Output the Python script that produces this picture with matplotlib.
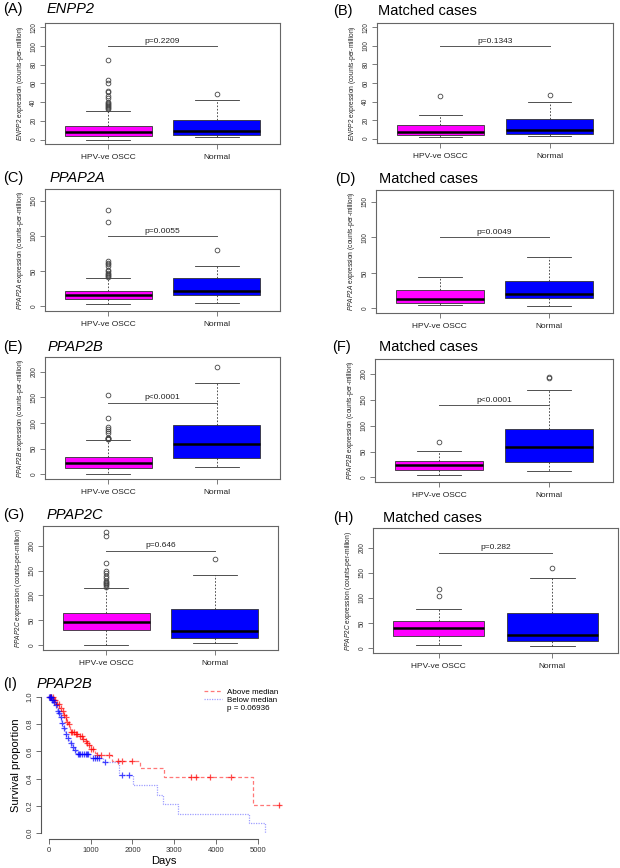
import numpy as np
import matplotlib
matplotlib.use("Agg")
import matplotlib.pyplot as plt
from matplotlib.lines import Line2D

plt.rcParams['font.family'] = ['Liberation Sans', 'DejaVu Sans']
plt.rcParams['mathtext.fontset'] = 'custom'
plt.rcParams['mathtext.it'] = 'Liberation Sans:italic'
plt.rcParams['mathtext.rm'] = 'Liberation Sans'

# ---------------- data ----------------
groups = ["HPV-ve OSCC", "Normal"]
panel_letters = ["(A)", "(B)", "(C)", "(D)", "(E)", "(F)", "(G)", "(H)"]
panel_titles = ["ENPP2", "Matched cases", "PPAP2A", "Matched cases",
                "PPAP2B", "Matched cases", "PPAP2C", "Matched cases"]
genes = ["ENPP2", "ENPP2", "PPAP2A", "PPAP2A", "PPAP2B", "PPAP2B", "PPAP2C", "PPAP2C"]
p_texts = ["p=0.2209", "p=0.1343", "p=0.0055", "p=0.0049",
           "p<0.0001", "p<0.0001", "p=0.646", "p=0.282"]
p_line_y = [100, 100, 100, 100, 140, 140, 190, 190]
y_max = [120, 120, 160, 160, 220, 220, 230, 230]
y_ticks = [[0, 20, 40, 60, 80, 100, 120], [0, 20, 40, 60, 80, 100, 120],
           [0, 50, 100, 150], [0, 50, 100, 150],
           [0, 50, 100, 150, 200], [0, 50, 100, 150, 200],
           [0, 50, 100, 150, 200], [0, 50, 100, 150, 200]]

# HPV-ve OSCC box statistics (panels A..H)
hpv_wlo = [0.0, 1.8, 3.8, 4.3, 0.7, 3.9, 1.3, 7.3]
hpv_q1 = [3.9, 4.3, 11.0, 7.7, 11.7, 15.0, 30.7, 24.5]
hpv_med = [8.4, 7.1, 16.3, 13.5, 21.5, 23.5, 47.3, 41.0]
hpv_q3 = [14.7, 14.3, 22.6, 26.4, 34.5, 31.3, 65.3, 53.6]
hpv_whi = [30.5, 25.4, 40.4, 43.8, 67.8, 51.5, 116.0, 78.8]
hpv_out = [[33, 34, 35, 36, 37, 38, 39, 40, 44, 47, 51, 52, 61, 64, 85],
           [46.4],
           [42, 43, 44, 46, 48, 50, 52, 58, 60, 62, 65, 119, 136],
           [],
           [69, 70, 70.5, 71, 72, 80, 84, 88, 92, 110, 155],
           [68],
           [118, 121, 123, 125, 127, 130, 135, 140, 145, 150, 165, 220, 228],
           [104, 117]]

# Normal box statistics (panels A..H)
nor_wlo = [3.2, 2.9, 4.3, 3.4, 13.7, 12.4, 4.0, 4.6]
nor_q1 = [5.3, 5.4, 16.8, 14.9, 32.0, 30.6, 15.3, 13.9]
nor_med = [9.5, 9.6, 21.6, 19.7, 60.0, 58.6, 28.7, 27.2]
nor_q3 = [21.4, 21.4, 40.9, 38.0, 97.0, 93.0, 72.0, 70.2]
nor_whi = [42.0, 39.3, 57.7, 72.0, 178.5, 168.0, 141.0, 140.4]
nor_out = [[48.4], [47.0], [79.3], [], [208.5], [192.5, 193.5], [172.7], [160.0]]

# Kaplan-Meier (panel I): PPAP2B above / below median
above_t = [0, 100, 180, 250, 300, 350, 380, 420, 460, 500, 520, 620, 700, 800, 860,
           900, 940, 1000, 1080, 1100, 1140, 1500, 2170, 2750, 4880]
above_s = [1.0, 0.98, 0.95, 0.92, 0.90, 0.87, 0.85, 0.82, 0.80, 0.76, 0.745, 0.73, 0.71,
           0.69, 0.68, 0.66, 0.645, 0.62, 0.60, 0.585, 0.575, 0.532, 0.475, 0.415, 0.207]
above_end = 5540
above_cens = [20, 30, 60, 90, 120, 150, 200, 230, 280, 330, 370, 400, 440, 480, 540,
              560, 600, 650, 680, 750, 780, 820, 880, 920, 960, 1010, 1050, 1160, 1250,
              1450, 1650, 1760, 1990, 3400, 3520, 3860, 4350, 5500]
below_t = [0, 60, 120, 150, 200, 230, 270, 300, 340, 380, 420, 470, 500, 560, 600,
           640, 680, 980, 1290, 1675, 2010, 2585, 2730, 3085, 4785, 5175]
below_s = [1.0, 0.98, 0.96, 0.94, 0.90, 0.88, 0.85, 0.81, 0.77, 0.73, 0.70, 0.68, 0.66,
           0.63, 0.61, 0.59, 0.58, 0.555, 0.522, 0.425, 0.352, 0.282, 0.213, 0.143,
           0.074, 0.0]
below_end = 5175
below_cens = [10, 20, 40, 50, 80, 100, 130, 180, 210, 250, 280, 320, 360, 400, 450,
              520, 580, 620, 700, 720, 750, 800, 850, 880, 900, 930, 1050, 1100, 1150,
              1200, 1350, 1760, 1910]
km_labels = ["Above median", "Below median", "p = 0.06936"]

# ---------------- layout ----------------
W, H = 620, 868
fig = plt.figure(figsize=(W / 100, H / 100), dpi=100)

def px_axes(x0, y0, x1, y1):
    return fig.add_axes([x0 / W, 1 - y1 / H, (x1 - x0) / W, (y1 - y0) / H])

box_rects = [(45, 23, 280, 144), (377, 23, 613, 143),
             (45, 189, 280, 311), (376, 190, 613, 313),
             (45, 357, 280, 479), (375, 359, 613, 482),
             (43, 526, 278, 650), (373, 528, 618, 653)]
title_pos = [(3, 47, 9), (333, 378, 11), (3, 50, 178), (335, 379, 179),
             (3, 48, 347), (332, 379, 347), (3, 47, 515), (333, 383, 518)]
colors = ["#ff00ff", "#0000ff"]
edge = "#333333"
framec = "#666666"

for i in range(8):
    ax = px_axes(*box_rects[i])
    stats = [
        dict(med=hpv_med[i], q1=hpv_q1[i], q3=hpv_q3[i], whislo=hpv_wlo[i],
             whishi=hpv_whi[i], fliers=hpv_out[i]),
        dict(med=nor_med[i], q1=nor_q1[i], q3=nor_q3[i], whislo=nor_wlo[i],
             whishi=nor_whi[i], fliers=nor_out[i]),
    ]
    bp = ax.bxp(stats, positions=[1, 2], widths=0.8, patch_artist=True,
                boxprops=dict(linewidth=0.6, edgecolor=edge),
                medianprops=dict(color="black", linewidth=1.8),
                whiskerprops=dict(color=edge, linewidth=0.6, linestyle=(0, (2, 2))),
                capprops=dict(color=edge, linewidth=0.6),
                capwidths=0.4,
                flierprops=dict(marker="o", markersize=3.4, markerfacecolor="none",
                                markeredgecolor="#444444", markeredgewidth=0.6))
    for patch, c in zip(bp["boxes"], colors):
        patch.set_facecolor(c)
    ax.plot([1, 2], [p_line_y[i], p_line_y[i]], color="#555555", lw=0.7)
    ax.text(1.5, p_line_y[i] + 0.012 * y_max[i], p_texts[i], ha="center", va="bottom",
            fontsize=6, color="#222222")
    ax.set_xlim(0.42, 2.58)
    ax.set_ylim(-0.04 * y_max[i], 1.04 * y_max[i])
    ax.set_yticks(y_ticks[i])
    ax.set_yticklabels([str(v) for v in y_ticks[i]], rotation=90, va="center")
    ax.set_xticks([1, 2])
    ax.set_xticklabels(groups)
    ax.tick_params(axis="y", labelsize=4.8, length=3.5, width=0.6, color=framec,
                   labelcolor="#333333", pad=2)
    ax.tick_params(axis="x", labelsize=6, length=3.5, width=0.6, color=framec,
                   labelcolor="#222222", pad=4)
    for s in ax.spines.values():
        s.set_color(framec)
        s.set_linewidth(0.8)
    ax.set_ylabel(r"$\it{" + genes[i] + r"}$ expression (counts-per-million)",
                  fontsize=4.8, color="#222222", labelpad=3)
    lx, tx, ty = title_pos[i]
    fig.text(lx / W, 1 - ty / H, panel_letters[i], fontsize=10.5, va="center", ha="left")
    style = "normal" if panel_titles[i] == "Matched cases" else "italic"
    fig.text(tx / W, 1 - ty / H, panel_titles[i], fontsize=10.5, va="center", ha="left",
             style=style)

# ---------------- panel I ----------------
axk = px_axes(41, 691.6, 287, 839)
red = "#ff3030"
blue = "#5050ff"
at = np.array(above_t + [above_end]); asv = np.array(above_s + [above_s[-1]])
bt = np.array(below_t + [below_end]); bsv = np.array(below_s + [below_s[-1]])
axk.step(at, asv, where="post", color=red, lw=0.9, alpha=0.65, linestyle=(0, (3, 2)))
axk.step(bt, bsv, where="post", color=blue, lw=0.9, alpha=0.55, linestyle=(0, (1, 1)))
ac = np.array(above_cens)
ay = np.array(above_s)[np.searchsorted(np.array(above_t), ac, side="right") - 1]
bc = np.array(below_cens)
by = np.array(below_s)[np.searchsorted(np.array(below_t), bc, side="right") - 1]
axk.plot(ac, ay, "+", color="#ff0000", ms=5, mew=0.9, alpha=0.7)
axk.plot(bc, by, "+", color="#0000ff", ms=5, mew=0.9, alpha=0.7)
axk.set_xlim(-190, 5700)
axk.set_ylim(-0.044, 1.04)
axk.spines["top"].set_visible(False)
axk.spines["right"].set_visible(False)
axk.spines["left"].set_bounds(0, 1)
axk.spines["bottom"].set_bounds(0, 5000)
for s in ("left", "bottom"):
    axk.spines[s].set_color("#555555")
    axk.spines[s].set_linewidth(0.8)
axk.set_xticks([0, 1000, 2000, 3000, 4000, 5000])
axk.set_yticks([0.0, 0.2, 0.4, 0.6, 0.8, 1.0])
axk.set_yticklabels(["0.0", "0.2", "0.4", "0.6", "0.8", "1.0"], rotation=90, va="center")
axk.tick_params(labelsize=5.5, length=3.5, width=0.6, color="#555555",
                labelcolor="#333333", pad=2)
axk.set_xlabel("Days", fontsize=8, labelpad=2)
axk.set_ylabel("Survival proportion", fontsize=8, labelpad=4)
handles = [Line2D([0], [0], color=red, lw=0.9, alpha=0.65, linestyle=(0, (3, 2))),
           Line2D([0], [0], color=blue, lw=0.9, alpha=0.55, linestyle=(0, (1, 1))),
           Line2D([0], [0], color="none")]
axk.legend(handles, km_labels, loc="upper left", bbox_to_anchor=(0.64, 1.06),
           frameon=False, fontsize=5.8, handlelength=2.2, handletextpad=0.7,
           labelspacing=0.05, borderpad=0.2)
fig.text(3 / W, 1 - 684 / H, "(I)", fontsize=10.5, va="center", ha="left")
fig.text(37 / W, 1 - 684 / H, "PPAP2B", fontsize=10.5, va="center", ha="left",
         style="italic")

fig.savefig("out.png", dpi=100)
